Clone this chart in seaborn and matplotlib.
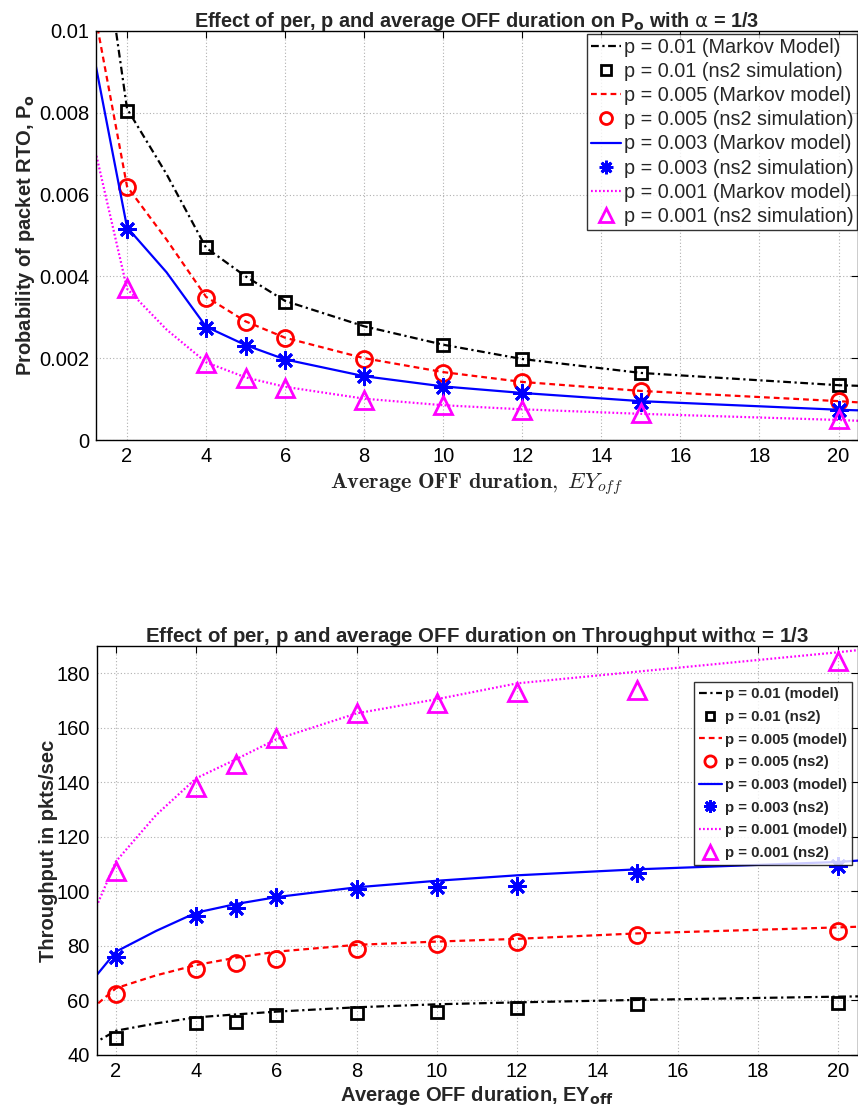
import matplotlib
matplotlib.use("Agg")
import matplotlib.pyplot as plt
import seaborn as sns
import numpy as np
import pandas as pd
from matplotlib.ticker import FuncFormatter

# ---------------- data ----------------
p_labels = ["0.01", "0.005", "0.003", "0.001"]

# x values
x_model = [1, 2, 3, 4, 5, 6, 8, 10, 12, 15, 20, 21]
x_sim = [2, 4, 5, 6, 8, 10, 12, 15, 20]

# Top: probability of packet RTO
rto_model_p01 = [0.0149, 0.0081, 0.0065, 0.0047, 0.0040, 0.0034, 0.00278, 0.00233, 0.00198, 0.00164, 0.00134, 0.00131]
rto_model_p005 = [0.0114, 0.0062, 0.0049, 0.0035, 0.0029, 0.0025, 0.0020, 0.00166, 0.00142, 0.00120, 0.00095, 0.00089]
rto_model_p003 = [0.0102, 0.0052, 0.0041, 0.00277, 0.00232, 0.00197, 0.00156, 0.00131, 0.00115, 0.00095, 0.00074, 0.00071]
rto_model_p001 = [0.0079, 0.0037, 0.0027, 0.0019, 0.00153, 0.0013, 0.00101, 0.00085, 0.00075, 0.00064, 0.00049, 0.00045]

rto_sim_p01 = [0.00805, 0.00471, 0.00397, 0.00338, 0.00275, 0.00232, 0.00197, 0.00165, 0.00134]
rto_sim_p005 = [0.00619, 0.00346, 0.00288, 0.00249, 0.00198, 0.00165, 0.00141, 0.00120, 0.00095]
rto_sim_p003 = [0.00516, 0.00275, 0.00231, 0.00196, 0.00156, 0.00130, 0.00116, 0.00094, 0.00073]
rto_sim_p001 = [0.00371, 0.00188, 0.00152, 0.00128, 0.00099, 0.00086, 0.00073, 0.00065, 0.00051]

# Bottom: throughput
thr_model_p01 = [40.5, 48.9, 51.6, 53.8, 54.9, 55.9, 57.5, 58.6, 59.3, 60.2, 61.4, 61.6]
thr_model_p005 = [52.0, 64.5, 69.2, 73.0, 75.7, 77.9, 80.4, 81.6, 82.6, 84.6, 86.8, 87.3]
thr_model_p003 = [60.0, 77.9, 85.5, 92.2, 95.4, 97.9, 101.5, 103.9, 105.9, 108.1, 110.8, 111.8]
thr_model_p001 = [77.0, 111.0, 128.0, 141.5, 148.5, 155.8, 165.3, 170.5, 176.3, 180.6, 187.7, 189.3]

thr_sim_p01 = [46.1, 51.6, 52.2, 54.7, 55.3, 55.9, 57.4, 58.7, 59.2]
thr_sim_p005 = [62.4, 71.4, 73.6, 75.1, 78.8, 80.6, 81.6, 84.0, 85.5]
thr_sim_p003 = [75.8, 91.0, 94.0, 97.9, 100.8, 101.5, 102.1, 106.9, 109.4]
thr_sim_p001 = [107.6, 138.4, 146.7, 156.4, 165.3, 169.0, 173.0, 173.9, 184.6]

# ---------------- style ----------------
sns.set_style("white")
plt.rcParams["font.family"] = ["Liberation Sans", "DejaVu Sans"]
plt.rcParams["axes.unicode_minus"] = False

colors = ["#000000", "#ff0000", "#0000ff", "#ff00ff"]
lstyles = [(0, (3.5, 1.6, 1.0, 1.6)), (0, (2.6, 1.8)), "-", (0, (0.8, 1.0))]
markers = ["s", "o", (8, 2, 0), "^"]
msizes = [9, 11.5, 13, 13.5]

fig = plt.figure(figsize=(8.58, 11.09), dpi=100)
ax1 = fig.add_axes([96 / 858, 1 - 440 / 1109, 761.5 / 858, 409 / 1109])
ax2 = fig.add_axes([96.7 / 858, 1 - 1055 / 1109, 761 / 858, 409 / 1109])


def draw(ax, models, sims, model_names, sim_names):
    for i in range(4):
        sns.lineplot(x=x_model, y=models[i], ax=ax, color=colors[i],
                     linestyle=lstyles[i], linewidth=1.6, label=model_names[i],
                     sort=False, estimator=None)
        sns.lineplot(x=x_sim, y=sims[i], ax=ax, color=colors[i],
                     linestyle="none", marker=markers[i], markersize=msizes[i],
                     markerfacecolor="none", markeredgecolor=colors[i],
                     markeredgewidth=2.0, label=sim_names[i],
                     sort=False, estimator=None)


def style_axes(ax):
    ax.grid(True, linestyle=(0, (1, 2)), color="#b0b0b0", linewidth=0.8)
    ax.tick_params(direction="in", top=True, right=True, length=5,
                   labelsize=14.5, width=0.8, pad=5, colors="black")
    for s in ax.spines.values():
        s.set_color("black")
        s.set_linewidth(1.0)
    ax.set_xticks([2, 4, 6, 8, 10, 12, 14, 16, 18, 20])


# Top panel
draw(ax1,
     [rto_model_p01, rto_model_p005, rto_model_p003, rto_model_p001],
     [rto_sim_p01, rto_sim_p005, rto_sim_p003, rto_sim_p001],
     ["p = 0.01 (Markov Model)", "p = 0.005 (Markov model)",
      "p = 0.003 (Markov model)", "p = 0.001 (Markov model)"],
     ["p = 0.01 (ns2 simulation)", "p = 0.005 (ns2 simulation)",
      "p = 0.003 (ns2 simulation)", "p = 0.001 (ns2 simulation)"])
ax1.set_xlim(1.215, 20.48)
ax1.set_ylim(0, 0.01)
ax1.set_yticks([0, 0.002, 0.004, 0.006, 0.008, 0.01])
ax1.yaxis.set_major_formatter(FuncFormatter(lambda v, p: "{:g}".format(round(v, 4))))
style_axes(ax1)
ax1.set_title(r"Effect of per, p and average OFF duration on P$_\mathbf{o}$ with $\mathrm{\alpha}$ = 1/3",
              fontsize=14.3, fontweight="bold", pad=3)
ax1.set_ylabel(r"Probability of packet RTO, P$_\mathbf{o}$", fontsize=14.5,
               fontweight="bold", labelpad=1.5)
ax1.set_xlabel(r"$\mathbf{Average\ OFF\ duration,}\ EY_{off}$", fontsize=16,
               math_fontfamily="cm", labelpad=4)
leg1 = ax1.legend(loc="upper right", bbox_to_anchor=(1.0, 0.993), borderaxespad=0,
                  fontsize=14.3, frameon=True, fancybox=False, edgecolor="black",
                  handlelength=1.5, handletextpad=0.15, labelspacing=0.26,
                  borderpad=0.2, markerscale=0.75)
leg1.get_frame().set_linewidth(1.0)

# Bottom panel
draw(ax2,
     [thr_model_p01, thr_model_p005, thr_model_p003, thr_model_p001],
     [thr_sim_p01, thr_sim_p005, thr_sim_p003, thr_sim_p001],
     ["p = 0.01 (model)", "p = 0.005 (model)", "p = 0.003 (model)", "p = 0.001 (model)"],
     ["p = 0.01 (ns2)", "p = 0.005 (ns2)", "p = 0.003 (ns2)", "p = 0.001 (ns2)"])
ax2.set_xlim(1.52, 20.49)
ax2.set_ylim(40, 190)
ax2.set_yticks([40, 60, 80, 100, 120, 140, 160, 180])
style_axes(ax2)
ax2.set_title(r"Effect of per, p and average OFF duration on Throughput with$\mathrm{\alpha}$ = 1/3",
              fontsize=14.7, fontweight="bold", pad=3)
ax2.set_ylabel("Throughput in pkts/sec", fontsize=14.5, fontweight="bold", labelpad=-1)
ax2.set_xlabel(r"Average OFF duration, EY$_\mathbf{off}$", fontsize=14.5,
               fontweight="bold", labelpad=2)
leg2 = ax2.legend(loc="upper right", bbox_to_anchor=(0.9925, 0.912), borderaxespad=0,
                  prop={"size": 10.8, "weight": "bold"}, frameon=True, fancybox=False,
                  edgecolor="black", handlelength=1.5, handletextpad=0.2,
                  labelspacing=0.58, borderpad=0.35, markerscale=0.7)
leg2.get_frame().set_linewidth(1.0)

fig.savefig("out.png", dpi=100)
